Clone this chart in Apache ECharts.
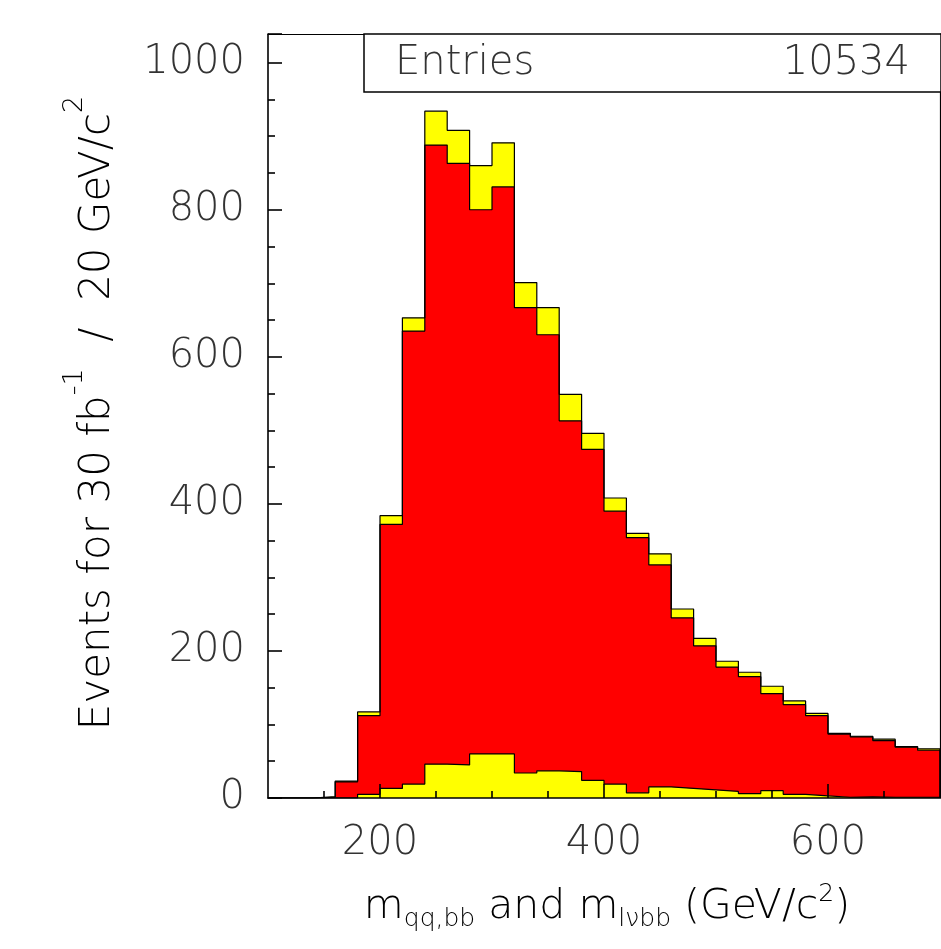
<!DOCTYPE html>
<html>
<head>
<meta charset="utf-8">
<script src="https://cdn.jsdelivr.net/npm/echarts@6/dist/echarts.min.js"></script>
<style>
html, body { margin: 0; padding: 0; background: #fff; }
#main { width: 941px; height: 949px; }
</style>
</head>
<body>
<div id="main"></div>
<script>
// bin edges in GeV/c^2 (20 GeV bins)
var binEdges = [100, 120, 140, 160, 180, 200, 220, 240, 260, 280, 300, 320, 340, 360, 380, 400,
    420, 440, 460, 480, 500, 520, 540, 560, 580, 600, 620, 640, 660, 680, 700];
// outer yellow histogram (total)
var totalCounts = [0, 0, 2, 23, 117, 384, 653, 934, 908, 860, 891, 701, 667, 549, 496, 408,
    360, 332, 257, 217, 186, 171, 152, 132, 115, 88, 84, 80, 70, 67];
// red histogram
var signalCounts = [0, 0, 1, 22, 112, 372, 635, 888, 863, 800, 831, 667, 630, 513, 474, 390,
    354, 317, 245, 207, 178, 165, 142, 127, 112, 87, 83, 78, 69, 65];
// small yellow histogram at the bottom
var backgroundCounts = [0, 0, 0, 0, 5, 13, 19, 46, 45, 60, 60, 34, 37, 36, 24, 19,
    7, 15, 13, 11, 9, 6, 10, 5, 3, 1, 1.5, 1, 1, 1];
var xTickMajor = [200, 400, 600];
var xTickMinor = [150, 250, 300, 350, 450, 500, 550, 650];
var entriesLabel = 'Entries';
var entriesValue = '10534';

var FONT = 'DejaVu Sans';
var WEIGHT = 200;
var TXT = '#333';

function histPoints(counts) {
    var pts = [[binEdges[0], 0]];
    for (var i = 0; i < counts.length; i++) {
        pts.push([binEdges[i], counts[i]]);
        pts.push([binEdges[i + 1], counts[i]]);
    }
    pts.push([binEdges[binEdges.length - 1], 0]);
    return pts;
}

function histSeries(counts, color) {
    return {
        type: 'line',
        data: histPoints(counts),
        symbol: 'none',
        z: 1,
        lineStyle: { color: '#000', width: 1.2 },
        areaStyle: { color: color, opacity: 1 }
    };
}

var tickStyle = { color: '#000', width: 1.6 };
var frameStyle = { color: '#000', width: 1.2 };
var myChart = echarts.init(document.getElementById('main'));
var option = {
    backgroundColor: '#fff',
    animation: false,
    grid: { left: 268, right: 1, top: 34, bottom: 151 },
    xAxis: [{
        type: 'value', min: 100, max: 700, z: 20,
        axisLine: { show: true, onZero: false, lineStyle: tickStyle },
        axisTick: { show: true, inside: true, length: 14, customValues: xTickMajor, lineStyle: tickStyle },
        axisLabel: { customValues: xTickMajor, margin: 26, fontFamily: FONT, fontWeight: WEIGHT, fontSize: 40, color: TXT },
        splitLine: { show: false }
    }, {
        type: 'value', min: 100, max: 700, position: 'bottom', z: 20,
        axisLine: { show: false },
        axisTick: { show: true, inside: true, length: 7, customValues: xTickMinor, lineStyle: tickStyle },
        axisLabel: { show: false },
        splitLine: { show: false }
    }, {
        // top frame line
        type: 'value', min: 100, max: 700, position: 'top', z: 20,
        axisLine: { show: true, onZero: false, lineStyle: frameStyle },
        axisTick: { show: false }, axisLabel: { show: false }, splitLine: { show: false }
    }],
    yAxis: [{
        type: 'value', min: 0, max: 1039, interval: 200, z: 20,
        axisLine: { show: true, onZero: false, lineStyle: tickStyle },
        axisTick: { show: true, inside: true, length: 14, lineStyle: tickStyle },
        minorTick: { show: true, splitNumber: 4, length: 7, lineStyle: tickStyle },
        axisLabel: {
            margin: 23, showMaxLabel: false, fontFamily: FONT, fontWeight: WEIGHT, fontSize: 40, color: TXT,
            formatter: function (v) { return String(v); }
        },
        splitLine: { show: false },
        minorSplitLine: { show: false }
    }, {
        // right frame line
        type: 'value', min: 0, max: 1039, position: 'right', z: 20,
        axisLine: { show: true, onZero: false, lineStyle: frameStyle },
        axisTick: { show: false }, axisLabel: { show: false }, splitLine: { show: false }
    }],
    series: [
        histSeries(totalCounts, '#ffff00'),
        histSeries(signalCounts, '#ff0000'),
        histSeries(backgroundCounts, '#ffff00')
    ],
    graphic: [{
        type: 'rect', z: 100,
        shape: { x: 364, y: 34, width: 577, height: 58 },
        style: { fill: '#fff', stroke: '#000', lineWidth: 1.5 }
    }, {
        type: 'text', z: 101, x: 395, y: 64,
        style: { text: entriesLabel, fontFamily: FONT, fontWeight: WEIGHT, fontSize: 40, fill: TXT, textVerticalAlign: 'middle' }
    }, {
        type: 'text', z: 101, x: 910, y: 64,
        style: { text: entriesValue, fontFamily: FONT, fontWeight: WEIGHT, fontSize: 40, fill: TXT, textAlign: 'right', textVerticalAlign: 'middle' }
    }, {
        type: 'text', z: 101, x: 90, y: 413, rotation: Math.PI / 2,
        style: {
            text: '{m|Events for 30 fb}{sup|-1}{m|  /  20 GeV/c}{sup|2}',
            textAlign: 'center', textVerticalAlign: 'middle',
            rich: {
                m: { fontFamily: FONT, fontWeight: WEIGHT, fontSize: 42, color: TXT, lineHeight: 58, verticalAlign: 'bottom' },
                sup: { fontFamily: FONT, fontWeight: WEIGHT, fontSize: 27, color: TXT, lineHeight: 30, verticalAlign: 'top' }
            }
        }
    }, {
        type: 'text', z: 101, x: 607, y: 907,
        style: {
            text: '{m|m}{sub|qq,bb}{m| and m}{sub|lνbb}{m| (GeV/c}{sup|2}{m|)}',
            textAlign: 'center', textVerticalAlign: 'middle',
            rich: {
                m: { fontFamily: FONT, fontWeight: WEIGHT, fontSize: 41, color: TXT, lineHeight: 50, verticalAlign: 'middle' },
                sub: { fontFamily: FONT, fontWeight: WEIGHT, fontSize: 25, color: TXT, lineHeight: 24, verticalAlign: 'bottom' },
                sup: { fontFamily: FONT, fontWeight: WEIGHT, fontSize: 25, color: TXT, lineHeight: 24, verticalAlign: 'top' }
            }
        }
    }]
};
myChart.setOption(option);
</script>
</body>
</html>
